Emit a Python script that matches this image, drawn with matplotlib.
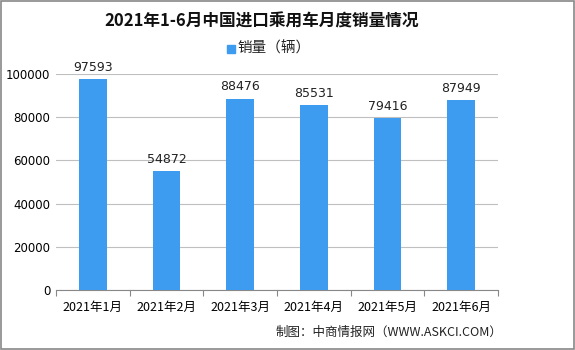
import matplotlib
matplotlib.use("Agg")
import matplotlib.pyplot as plt
from matplotlib.patches import Rectangle

plt.rcParams['font.family'] = ['Noto Sans CJK SC', 'DejaVu Sans']

categories = ["2021年1月", "2021年2月", "2021年3月", "2021年4月", "2021年5月", "2021年6月"]
sales = [97593, 54872, 88476, 85531, 79416, 87949]
yticks = [0, 20000, 40000, 60000, 80000, 100000]
title = "2021年1-6月中国进口乘用车月度销量情况"
legend_label = "销量（辆）"
source = "制图：中商情报网（WWW.ASKCI.COM）"

bar_color = "#3D9BF0"

fig = plt.figure(figsize=(5.75, 3.5), dpi=100)
ax = fig.add_axes([56/575, 60/350, 442/575, 216/350])

x = list(range(len(categories)))
ax.bar(x, sales, width=0.38, color=bar_color, zorder=3)
for xi, v in zip(x, sales):
    ax.text(xi, v + 2500, str(v), ha='center', va='bottom', fontsize=9, color='#222222', family='DejaVu Sans')

ax.set_xlim(-0.5, len(categories) - 0.5)
ax.set_ylim(0, 100000)
ax.set_yticks(yticks)
ax.set_yticklabels([str(t) for t in yticks], fontsize=8.5, family='DejaVu Sans')
ax.set_xticks([i - 0.5 for i in range(len(categories) + 1)], minor=False)
ax.set_xticklabels([])
ax.set_xticks(x, minor=True)
ax.set_xticklabels(categories, minor=True, fontsize=9)
ax.tick_params(axis='x', which='major', length=4, color='#888888')
ax.tick_params(axis='x', which='minor', length=0, pad=8)
ax.tick_params(axis='y', length=0, pad=4)
ax.grid(axis='y', color='#BFBFBF', linewidth=0.8, zorder=0)
for s in ['top', 'right', 'left']:
    ax.spines[s].set_visible(False)
ax.spines['bottom'].set_color('#888888')

fig.text(0.455, 1 - 22/350, title, ha='center', va='center', fontsize=12, fontweight='bold', color='#111111')
fig.patches.append(Rectangle((227/575, 1 - 53/350), 8/575, 8/350, transform=fig.transFigure, color=bar_color))
fig.text(237/575, 1 - 48/350, legend_label, ha='left', va='center', fontsize=10.5, color='#222222')
fig.text(502/575, 1 - 332/350, source, ha='right', va='center', fontsize=9, color='#222222')

fig.patches.append(Rectangle((0.001, 0.002), 0.997, 0.995, transform=fig.transFigure, fill=False, edgecolor='#888888', linewidth=1.2))

fig.savefig("out.png", dpi=100)
